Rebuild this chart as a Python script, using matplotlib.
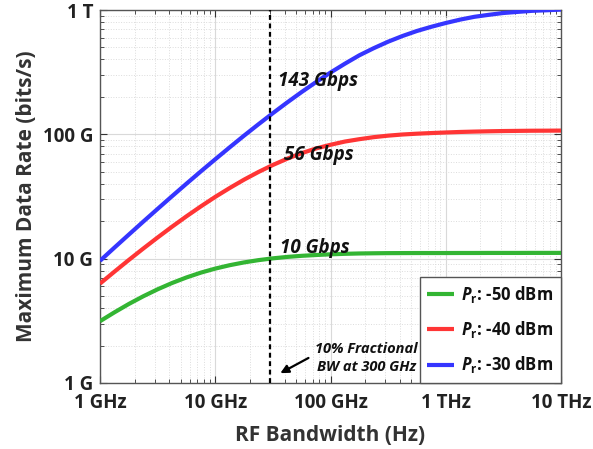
import matplotlib
matplotlib.use("Agg")
import matplotlib.pyplot as plt
from matplotlib.ticker import LogLocator, FixedLocator, NullFormatter

plt.rcParams['font.family'] = ['Open Sans', 'DejaVu Sans']
plt.rcParams['mathtext.fontset'] = 'custom'
plt.rcParams['mathtext.rm'] = 'Open Sans:bold'
plt.rcParams['mathtext.bf'] = 'Open Sans:bold'
plt.rcParams['mathtext.it'] = 'Open Sans:bold:italic'
plt.rcParams['mathtext.bfit'] = 'Open Sans:bold:italic'

# Bandwidth samples (GHz), eighth-decade steps
bw_ghz = [1, 1.334, 1.778, 2.371, 3.162, 4.217, 5.623, 7.499,
          10, 13.34, 17.78, 23.71, 31.62, 42.17, 56.23, 74.99,
          100, 133.4, 177.8, 237.1, 316.2, 421.7, 562.3, 749.9,
          1000, 1334, 1778, 2371, 3162, 4217, 5623, 7499, 10000]
# Data rates (Gbps)
rate_m50 = [3.14, 3.70, 4.32, 4.98, 5.67, 6.37, 7.06, 7.72,
            8.32, 8.86, 9.33, 9.73, 10.06, 10.33, 10.54, 10.70,
            10.84, 10.94, 11.01, 11.05, 11.08, 11.09, 11.10, 11.10,
            11.10, 11.11, 11.11, 11.12, 11.12, 11.12, 11.13, 11.13, 11.13]
rate_m40 = [6.30, 7.86, 9.76, 12.05, 14.80, 18.07, 21.90, 26.33,
            31.4, 37.0, 43.2, 49.8, 56.7, 63.7, 70.6, 77.0,
            82.4, 87.5, 91.4, 94.9, 97.6, 99.7, 101.2, 102.4,
            103.5, 104.5, 105.2, 105.8, 106.3, 106.6, 106.9, 107.0, 107.2]
rate_m30 = [9.61, 12.27, 15.61, 19.84, 25.14, 31.79, 40.07, 50.35,
            63.0, 78.6, 97.6, 120.5, 148.0, 180.7, 219.0, 263.3,
            314, 370, 432, 493, 556, 618, 678, 733,
            786, 837, 882, 915, 946, 966, 985, 995, 1008]

series_labels = [r'$\mathbfit{P}_{\mathbf{r}}$: -50 dBm',
                 r'$\mathbfit{P}_{\mathbf{r}}$: -40 dBm',
                 r'$\mathbfit{P}_{\mathbf{r}}$: -30 dBm']
colors = ['#33b533', '#ff3535', '#3535ff']

x_ticks = [1e9, 1e10, 1e11, 1e12, 1e13]
x_ticklabels = ['1 GHz', '10 GHz', '100 GHz', '1 THz', '10 THz']
y_ticks = [1e9, 1e10, 1e11, 1e12]
y_ticklabels = ['1 G', '10 G', '100 G', '1 T']

marker_bw = 30e9
annotation_texts = ['143 Gbps', '56 Gbps', '10 Gbps']

fig = plt.figure(figsize=(5.93, 4.49), dpi=100)
ax = fig.add_axes([100/593, 1-383/449, 461/593, 373/449])

x = [b * 1e9 for b in bw_ghz]
for vals, lab, c in zip([rate_m50, rate_m40, rate_m30], series_labels, colors):
    ax.plot(x, [v * 1e9 for v in vals], color=c, lw=3, label=lab,
            solid_capstyle='butt', zorder=3)

ax.set_xscale('log')
ax.set_yscale('log')
ax.set_xlim(1e9, 1e13)
ax.set_ylim(1e9, 1e12)

ax.xaxis.set_major_locator(FixedLocator(x_ticks))
ax.set_xticklabels(x_ticklabels)
ax.yaxis.set_major_locator(FixedLocator(y_ticks))
ax.set_yticklabels(y_ticklabels)
ax.xaxis.set_minor_locator(LogLocator(base=10, subs=range(2, 10), numticks=20))
ax.yaxis.set_minor_locator(LogLocator(base=10, subs=range(2, 10), numticks=20))
ax.xaxis.set_minor_formatter(NullFormatter())
ax.yaxis.set_minor_formatter(NullFormatter())

ax.grid(which='major', color='#d9d9d9', lw=0.8, ls='-')
ax.grid(which='minor', color='#dcdcdc', lw=0.7, ls=':')
ax.set_axisbelow(True)

ax.tick_params(which='both', direction='in', top=True, right=True,
               colors='#333333', labelcolor='#222222')
ax.tick_params(which='major', length=5, labelsize=13.5)
ax.tick_params(axis='x', which='major', pad=7)
ax.tick_params(axis='y', which='major', pad=5)
ax.tick_params(which='minor', length=3)
for lab in ax.get_xticklabels() + ax.get_yticklabels():
    lab.set_fontweight('bold')
for s in ax.spines.values():
    s.set_color('#555555')
    s.set_linewidth(1.0)

ax.set_xlabel('RF Bandwidth (Hz)', fontsize=15, fontweight='bold',
              color='#333333', labelpad=9)
ax.set_ylabel('Maximum Data Rate (bits/s)', fontsize=15, fontweight='bold',
              color='#333333', labelpad=4)

ax.axvline(marker_bw, color='black', lw=1.6, ls=(0, (2.2, 1.6)), zorder=4)

label_pos = [(3.53e10, 2.69e11), (3.98e10, 6.82e10), (3.67e10, 1.22e10)]
for txt, (tx, ty) in zip(annotation_texts, label_pos):
    ax.text(tx, ty, txt, fontsize=13.5, fontweight='bold', fontstyle='italic',
            ha='left', va='center', color='#111111', zorder=5)

ax.text(2.06e11, 1.59e9, '10% Fractional\nBW at 300 GHz', fontsize=10.5,
        fontweight='bold', fontstyle='italic', ha='center', va='center',
        color='#111111', linespacing=1.3, zorder=5)
ax.annotate('', xy=(3.67e10, 1.2e9), xytext=(6.44e10, 1.59e9),
            arrowprops=dict(arrowstyle='-|>', color='black', lw=1.6,
                            mutation_scale=12, shrinkA=0, shrinkB=0),
            zorder=5)

leg = ax.legend(loc='lower right', fontsize=12, frameon=True, fancybox=False,
                edgecolor='#555555', framealpha=1, borderaxespad=0,
                handlelength=1.6, handletextpad=0.45, labelspacing=0.85,
                borderpad=0.45)
leg.get_frame().set_linewidth(1.0)
leg.set_zorder(6)
for t in leg.get_texts():
    t.set_fontweight('bold')
    t.set_color('#111111')

fig.savefig('out.png', dpi=100)
